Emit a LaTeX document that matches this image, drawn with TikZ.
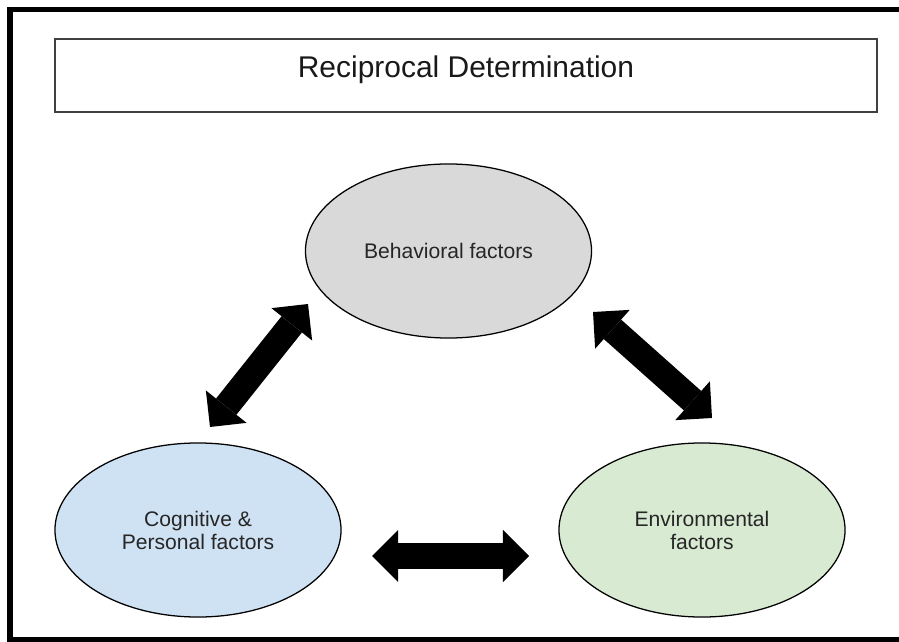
\documentclass[tikz,border=0pt]{standalone}
\usepackage{fontspec}
\setmainfont{Liberation Sans}
\usepackage{xcolor}
\usetikzlibrary{arrows.meta,shapes.geometric}

\definecolor{behgray}{HTML}{D9D9D9}
\definecolor{cogblue}{HTML}{CFE2F3}
\definecolor{envgreen}{HTML}{D9EAD3}

\begin{document}
\begin{tikzpicture}[x=0.025cm, y=-0.025cm,
    factor/.style={draw=black, line width=0.9pt, ellipse, inner sep=0pt,
      minimum width=7.15cm, minimum height=4.35cm, align=center,
      text=black!85, font=\fontsize{15}{16.4}\selectfont},
    twoway/.style={line width=18.5pt,
      {Triangle[length=18.5pt,width=37pt,line width=0pt]}-{Triangle[length=18.5pt,width=37pt,line width=0pt]}}]
             \useasboundingbox (0,0) rectangle (899,642);
             \clip (0,0) rectangle (899,642);

             % frame and heading
             \draw[line width=3.6pt] (10,9.5) rectangle (915,640);
             \node[draw=black!75, line width=1pt, minimum width=20.55cm, minimum height=1.825cm] (headbox) at (466,75.5) {};
             \node[anchor=base, font=\fontsize{21.3}{24}\selectfont, text=black!90] (head) at (466,78) {Reciprocal Determination};

             % the three factors
             \node[factor, fill=behgray] (beh) at (448.5,251) {Behavioral factors};
             \node[factor, fill=cogblue] (cog) at (198,530) {Cognitive \&\\Personal factors};
             \node[factor, fill=envgreen] (env) at (702,530) {Environmental\\factors};

             % arrow ends
             \coordinate (cogup) at (210,427);
             \coordinate (behleft) at (308,304);
             \coordinate (behright) at (593,312);
             \coordinate (envup) at (712,418);
             \coordinate (cogright) at (372,556);
             \coordinate (envleft) at (529,556);

             \draw[twoway] (cogup) -- (behleft);
             \draw[twoway] (behright) -- (envup);
             \draw[twoway] (cogright) -- (envleft);
             \end{tikzpicture}
\end{document}
